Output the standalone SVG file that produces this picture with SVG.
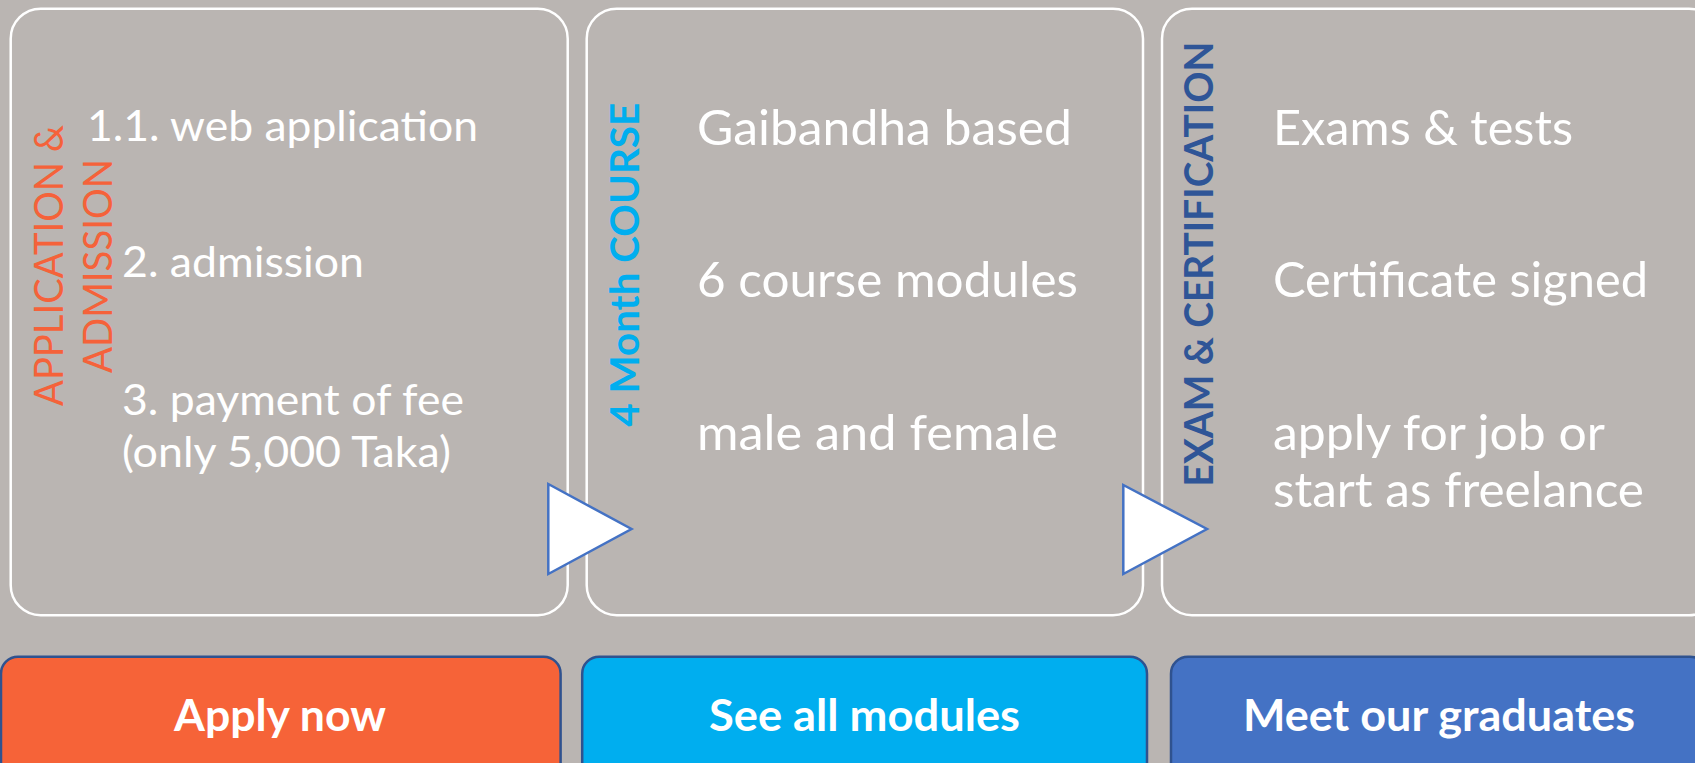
<svg xmlns="http://www.w3.org/2000/svg" width="1695" height="763" viewBox="0 0 1695 763">
<style>
.panel{fill:#BAB5B2;stroke:#FFFFFF;stroke-width:2.5}
.body{font-family:Lato,"Liberation Sans",sans-serif;font-size:48px;fill:#FFFFFF}
.small{font-size:43px}
.title{font-family:Lato,"Liberation Sans",sans-serif;font-size:41px}
.bold{font-weight:bold}
.btn{stroke:#2F528F;stroke-width:2.5}
.btntext{font-family:Lato,"Liberation Sans",sans-serif;font-size:43px;font-weight:bold;fill:#FFFFFF;text-anchor:middle}
.arrow{fill:#FFFFFF;stroke:#4472C4;stroke-width:2.5;stroke-linejoin:miter}
</style>
<rect x="0" y="0" width="1695" height="763" fill="#BAB5B2"/>
<g id="panel-application">
<rect class="panel" x="10.7" y="8.7" width="557" height="606.5" rx="30"/>
<g transform="translate(63,265.5) rotate(-90)">
<text class="title" x="0" y="0" text-anchor="middle" fill="#F5623A" textLength="281" lengthAdjust="spacingAndGlyphs">APPLICATION &amp;</text>
</g>
<g transform="translate(112,266) rotate(-90)">
<text class="title" x="0" y="0" text-anchor="middle" fill="#F5623A" textLength="214" lengthAdjust="spacingAndGlyphs">ADMISSION</text>
</g>
<text class="body small" x="87" y="140.7" textLength="391" lengthAdjust="spacingAndGlyphs">1.1. web application</text>
<text class="body small" x="122" y="276.8" textLength="242" lengthAdjust="spacingAndGlyphs">2. admission</text>
<text class="body small" x="122" y="415" textLength="342" lengthAdjust="spacingAndGlyphs">3. payment of fee</text>
<text class="body small" x="122" y="466.6" textLength="329" lengthAdjust="spacingAndGlyphs">(only 5,000 Taka)</text>
</g>
<g id="panel-course">
<rect class="panel" x="586.7" y="8.7" width="556.3" height="606.5" rx="30"/>
<g transform="translate(638.5,264.8) rotate(-90)">
<text class="title bold" x="0" y="0" text-anchor="middle" fill="#00AEEF" textLength="324" lengthAdjust="spacingAndGlyphs">4 Month COURSE</text>
</g>
<text class="body" x="697" y="145.3" textLength="375" lengthAdjust="spacingAndGlyphs">Gaibandha based</text>
<text class="body" x="697" y="297.4" textLength="381" lengthAdjust="spacingAndGlyphs">6 course modules</text>
<text class="body" x="697" y="450" textLength="361" lengthAdjust="spacingAndGlyphs">male and female</text>
</g>
<g id="panel-exam">
<rect class="panel" x="1162" y="8.7" width="557" height="606.5" rx="30"/>
<g transform="translate(1213,264) rotate(-90)">
<text class="title bold" x="0" y="0" text-anchor="middle" fill="#2F5597" textLength="445" lengthAdjust="spacingAndGlyphs">EXAM &amp; CERTIFICATION</text>
</g>
<text class="body" x="1273" y="145" textLength="300" lengthAdjust="spacingAndGlyphs">Exams &amp; tests</text>
<text class="body" x="1273" y="296.5" textLength="375" lengthAdjust="spacingAndGlyphs">Certificate signed</text>
<text class="body" x="1273" y="450" textLength="332" lengthAdjust="spacingAndGlyphs">apply for job or</text>
<text class="body" x="1273" y="507.3" textLength="371" lengthAdjust="spacingAndGlyphs">start as freelance</text>
</g>
<g id="connectors">
<polygon class="arrow" points="548.3,484 548.3,574 631.5,529"/>
<polygon class="arrow" points="1123.3,485 1123.3,574 1207,529"/>
</g>
<g id="button-apply">
<rect class="btn" x="1" y="656.7" width="559.6" height="140" rx="17" fill="#F66338"/>
<text class="btntext" x="280" y="730.7" textLength="212" lengthAdjust="spacingAndGlyphs">Apply now</text>
</g>
<g id="button-modules">
<rect class="btn" x="582.2" y="656.7" width="564.8" height="140" rx="17" fill="#00AEEF"/>
<text class="btntext" x="864.5" y="730.7" textLength="311" lengthAdjust="spacingAndGlyphs">See all modules</text>
</g>
<g id="button-graduates">
<rect class="btn" x="1171" y="656.7" width="536" height="140" rx="17" fill="#4472C4"/>
<text class="btntext" x="1439" y="730.7" textLength="392" lengthAdjust="spacingAndGlyphs">Meet our graduates</text>
</g>
</svg>
